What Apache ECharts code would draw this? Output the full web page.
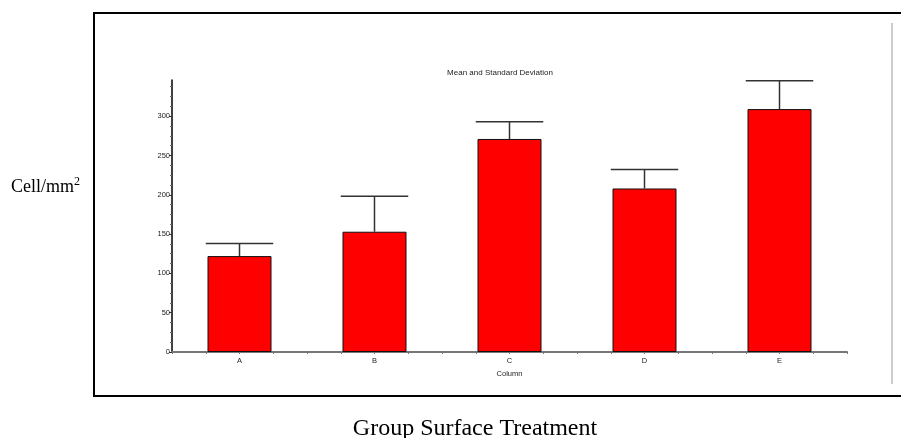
<!DOCTYPE html>
<html>
<head>
<meta charset="utf-8">
<script src="https://cdn.jsdelivr.net/npm/echarts@6/dist/echarts.min.js"></script>
<style>
html,body{margin:0;padding:0;background:#fff;}
#main{width:901px;height:438px;}
</style>
</head>
<body>
<div id="main"></div>
<script>
// 数据
var categories = ['A', 'B', 'C', 'D', 'E'];
var meanValues = [122, 153, 271, 208, 309];
var sdValues = [16, 45, 22, 24, 36];
var yTicks = [0, 50, 100, 150, 200, 250, 300];

var errorData = [];
for (var i = 0; i < categories.length; i++) {
	errorData.push([i, meanValues[i], meanValues[i] + sdValues[i]]);
}

var myChart = echarts.init(document.getElementById('main'));
var option = {
	animation: false,
	backgroundColor: '#fff',
	title: {
		text: 'Mean and Standard Deviation',
		left: 495,
		top: 64,
		textAlign: 'center',
		textStyle: {fontSize: 8, fontWeight: 'normal', color: '#222', fontFamily: 'Liberation Sans, Arial'}
	},
	grid: {left: 172, right: 54, top: 80, bottom: 86},
	xAxis: [{
		type: 'category',
		data: categories,
		name: 'Column',
		nameLocation: 'middle',
		nameGap: 18,
		nameTextStyle: {fontSize: 7.5, color: '#222', fontFamily: 'Liberation Sans, Arial'},
		axisLine: {lineStyle: {color: '#777', width: 2}},
		axisTick: {alignWithLabel: true, length: 4, lineStyle: {color: '#555'}},
		axisLabel: {fontSize: 7.5, color: '#222', margin: 5, fontFamily: 'Liberation Sans, Arial'}
	}, {
		// 细分刻度
		type: 'value',
		min: 0,
		max: 20,
		interval: 1,
		position: 'bottom',
		axisLine: {show: false},
		axisLabel: {show: false},
		axisTick: {show: true, length: 2, lineStyle: {color: '#777'}},
		splitLine: {show: false}
	}],
	yAxis: {
		type: 'value',
		min: yTicks[0],
		max: 346,
		interval: 50,
		axisLine: {show: true, lineStyle: {color: '#000', width: 1.5}},
		axisTick: {show: true, length: 3, customValues: yTicks, lineStyle: {color: '#333'}},
		minorTick: {show: true, splitNumber: 4, length: 2, lineStyle: {color: '#666'}},
		axisLabel: {fontSize: 7.5, color: '#222', margin: 2, customValues: yTicks, fontFamily: 'Liberation Sans, Arial'},
		splitLine: {show: false}
	},
	series: [{
		type: 'bar',
		data: meanValues,
		barWidth: 64,
		itemStyle: {color: '#ff0000', borderColor: '#111', borderWidth: 1}
	}, {
		type: 'custom',
		data: errorData,
		z: 3,
		renderItem: function (params, api) {
			var x = api.value(0);
			var p0 = api.coord([x, api.value(1)]);
			var p1 = api.coord([x, api.value(2)]);
			var half = api.size([1, 0])[0] * 0.25;
			var style = {stroke: '#333', lineWidth: 1.5};
			return {
				type: 'group',
				children: [{
					type: 'line',
					shape: {x1: p0[0], y1: p0[1], x2: p1[0], y2: p1[1]},
					style: style
				}, {
					type: 'line',
					shape: {x1: p1[0] - half, y1: p1[1], x2: p1[0] + half, y2: p1[1]},
					style: style
				}]
			};
		}
	}],
	graphic: [{
		type: 'rect',
		shape: {x: 94, y: 13, width: 820, height: 383},
		style: {fill: 'none', stroke: '#000', lineWidth: 2}
	}, {
		type: 'line',
		shape: {x1: 892, y1: 23, x2: 892, y2: 384},
		style: {stroke: '#999', lineWidth: 1}
	}, {
		type: 'text',
		x: 11,
		y: 187,
		style: {
			text: 'Cell/mm{sup|2}',
			font: '18px "Liberation Serif", serif',
			fill: '#000',
			verticalAlign: 'middle',
			rich: {sup: {fontSize: 12, verticalAlign: 'top', padding: [0, 0, 10, 0], fontFamily: 'Liberation Serif'}}
		}
	}, {
		type: 'text',
		x: 475,
		y: 429,
		style: {text: 'Group Surface Treatment', font: '24px "Liberation Serif", serif', fill: '#000', align: 'center', verticalAlign: 'middle'}
	}]
};
myChart.setOption(option);
</script>
</body>
</html>
